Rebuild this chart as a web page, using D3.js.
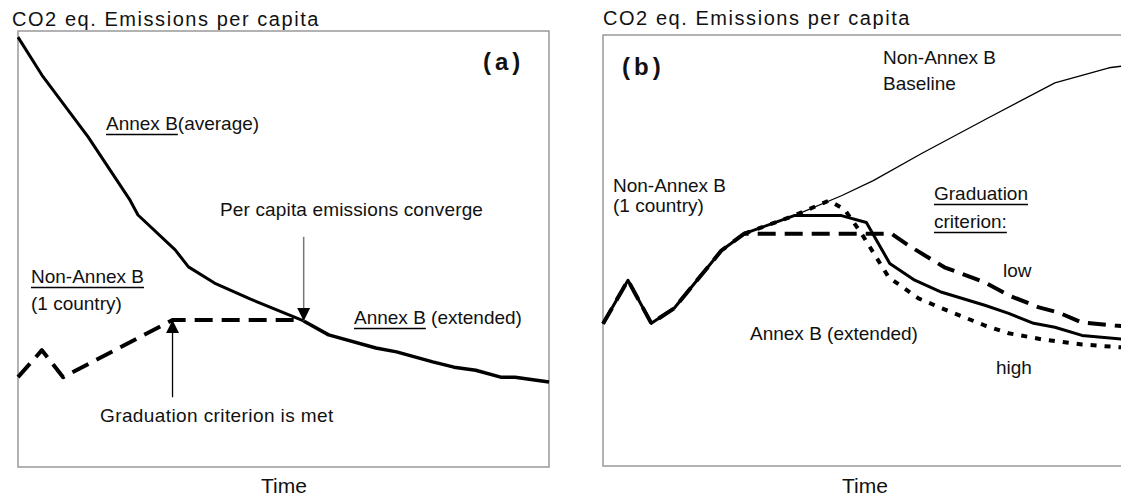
<!DOCTYPE html>
<html>
<head>
<meta charset="utf-8">
<script src="https://cdn.jsdelivr.net/npm/d3@7"></script>
<style>
  body { margin: 0; background: #fff; }
  text { font-family: "Liberation Sans", Arial, sans-serif; fill: #111; }
</style>
</head>
<body>
<svg width="1121" height="499"></svg>
<script>
// time index 0-100, emissions per capita 0-100 (arbitrary units)
var annexAverage = [
  [0, 98.6], [4.5, 89.9], [13.2, 75.7], [21.1, 61.2], [22.6, 57.8], [29.6, 49.8],
  [32.1, 45.9], [37, 42.2], [43.8, 38.5], [53.8, 33.5]
];
var annexExtended = [
  [53.8, 33.5], [58.5, 30.3], [67.4, 27.3], [71.3, 26.4], [78.1, 24.1], [82.1, 22.9],
  [86.2, 22.2], [90.9, 20.6], [93.6, 20.6], [100, 19.5]
];
var nonAnnexA = [
  [0, 20.6], [4.5, 26.8], [8.5, 20.6], [29.1, 33.7], [53.8, 33.7]
];

// panel (b)
var commonPath = [
  [0, 33], [4.7, 43.1], [9.1, 33.1], [13.4, 36.6], [16.6, 41.4], [22.3, 50], [26.6, 53.9]
];
var baselineB = [
  [36, 58.1], [44.9, 62.7], [50.9, 66.2], [60, 72.5], [72.6, 80.8], [85.1, 88.9],
  [95.3, 92.4], [97.9, 92.8], [100, 93]
];
var lowCriterion = [
  [54.3, 53.9], [57.5, 51.2], [64.3, 46.1], [71.9, 42.6], [76.4, 39.6], [82.1, 36.8],
  [85.8, 35.6], [90.2, 33.3], [96.4, 32.6], [100, 32.3]
];
var annexExtendedB = [
  [36, 58.1], [44.9, 58.1], [49.6, 56.5], [54, 47], [58.7, 43.1], [63.8, 40.3],
  [71.9, 37.3], [76.4, 35.4], [81.1, 33.1], [85.1, 32.2], [90.2, 30.3], [100, 29.2]
];
var highCriterion = [
  [36, 58.1], [42.6, 61.6], [45.5, 59.5], [48.7, 53.9], [53.8, 43.8], [59.4, 38.9],
  [63.8, 36.6], [71.9, 32.6], [76.4, 30.8], [82.6, 29.4], [90.2, 28.2], [100, 27.3]
];
var convergeAt = [53.8, 33.5];
var graduationAt = [29.1, 33.7];

var svg = d3.select("svg");
var titleText = "CO2 eq. Emissions per capita";

var xA = d3.scaleLinear().domain([0, 100]).range([18, 549]),
    yA = d3.scaleLinear().domain([0, 100]).range([467, 31]);
var xB = d3.scaleLinear().domain([0, 100]).range([603, 1134]),
    yB = d3.scaleLinear().domain([0, 100]).range([466, 35]);

svg.append("defs").append("marker")
    .attr("id", "head")
    .attr("viewBox", "0 0 10 10")
    .attr("refX", 10).attr("refY", 5)
    .attr("markerWidth", 13).attr("markerHeight", 17)
    .attr("markerUnits", "userSpaceOnUse")
    .attr("orient", "auto")
  .append("path")
    .attr("d", "M0,0 L10,5 L0,10 Z")
    .attr("fill", "#000");

function frame(x, y) {
  svg.append("rect")
    .attr("x", x.range()[0]).attr("y", y.range()[1])
    .attr("width", x.range()[1] - x.range()[0])
    .attr("height", y.range()[0] - y.range()[1])
    .attr("fill", "none").attr("stroke", "#999").attr("stroke-width", 1.5);
}

function drawLine(data, x, y, width, dash) {
  var line = d3.line().x(function(d) { return x(d[0]); }).y(function(d) { return y(d[1]); });
  svg.append("path")
    .datum(data)
    .attr("d", line)
    .attr("fill", "none")
    .attr("stroke", "#000")
    .attr("stroke-width", width)
    .attr("stroke-linejoin", "round")
    .attr("stroke-dasharray", dash || null);
}

// label: x, y are the baseline start, relative to the panel's top-left corner
function label(x, y, ox, oy, txt, opts) {
  opts = opts || {};
  var t = svg.append("text")
    .attr("x", ox + x).attr("y", oy + y)
    .style("font-size", (opts.size || 19) + "px")
    .style("font-weight", opts.bold ? "bold" : null)
    .style("letter-spacing", opts.spacing ? opts.spacing + "px" : null)
    .attr("text-anchor", opts.anchor || "start")
    .text(txt);
  if (opts.underline) {
    var u = svg.append("text").style("font-size", (opts.size || 19) + "px").text(opts.underline);
    var w = u.node().getComputedTextLength();
    u.remove();
    svg.append("line")
      .attr("x1", ox + x).attr("x2", ox + x + w)
      .attr("y1", oy + y + 4.5).attr("y2", oy + y + 4.5)
      .attr("stroke", "#000").attr("stroke-width", 1.3);
  }
  return t;
}

// ---- panel (a)
frame(xA, yA);
drawLine(nonAnnexA, xA, yA, 4, "18,9");
drawLine(annexAverage, xA, yA, 3);
drawLine(annexExtended, xA, yA, 3.5);

svg.append("line")
  .attr("x1", xA(convergeAt[0])).attr("x2", xA(convergeAt[0]))
  .attr("y1", yA(52.8)).attr("y2", yA(convergeAt[1]))
  .attr("stroke", "#777").attr("stroke-width", 1.5)
  .attr("marker-end", "url(#head)");
svg.append("line")
  .attr("x1", xA(graduationAt[0])).attr("x2", xA(graduationAt[0]))
  .attr("y1", yA(16)).attr("y2", yA(graduationAt[1]))
  .attr("stroke", "#000").attr("stroke-width", 1.3)
  .attr("marker-end", "url(#head)");

var ax = 18, ay = 31;
label(-6, -5, ax, ay, titleText, { size: 20, spacing: 1.55 });
label(465, 39, ax, ay, "(a)", { size: 24, bold: true, spacing: 4 });
label(88, 99, ax, ay, "Annex B(average)", { underline: "Annex B" });
label(202, 185, ax, ay, "Per capita emissions converge", { spacing: 0.15 });
label(336, 293, ax, ay, "Annex B (extended)", { underline: "Annex B" });
label(13, 252, ax, ay, "Non-Annex B", { underline: "Non-Annex B" });
label(13, 279, ax, ay, "(1 country)");
label(82, 391, ax, ay, "Graduation criterion is met", { spacing: 0.4 });
label(266, 462, ax, ay, "Time", { size: 21, anchor: "middle" });

// ---- panel (b)
frame(xB, yB);
drawLine(commonPath.concat(baselineB), xB, yB, 1.3);
drawLine([commonPath[commonPath.length - 1]].concat(highCriterion), xB, yB, 4, "6,8");
drawLine(commonPath.concat([commonPath[commonPath.length - 1]], lowCriterion), xB, yB, 4, "18,9");
drawLine(commonPath.concat(annexExtendedB), xB, yB, 3);

var bx = 603, by = 35;
label(0, -10, bx, by, titleText, { size: 20, spacing: 1.55 });
label(19, 40, bx, by, "(b)", { size: 24, bold: true, spacing: 4 });
label(10, 157, bx, by, "Non-Annex B");
label(10, 177, bx, by, "(1 country)");
label(280, 29, bx, by, "Non-Annex B");
label(280, 55, bx, by, "Baseline");
label(331, 165, bx, by, "Graduation", { underline: "Graduation" });
label(331, 193, bx, by, "criterion:", { underline: "criterion:" });
label(400, 242, bx, by, "low");
label(393, 339, bx, by, "high");
label(147, 305, bx, by, "Annex B (extended)");
label(262, 458, bx, by, "Time", { size: 21, anchor: "middle" });
</script>
</body>
</html>
